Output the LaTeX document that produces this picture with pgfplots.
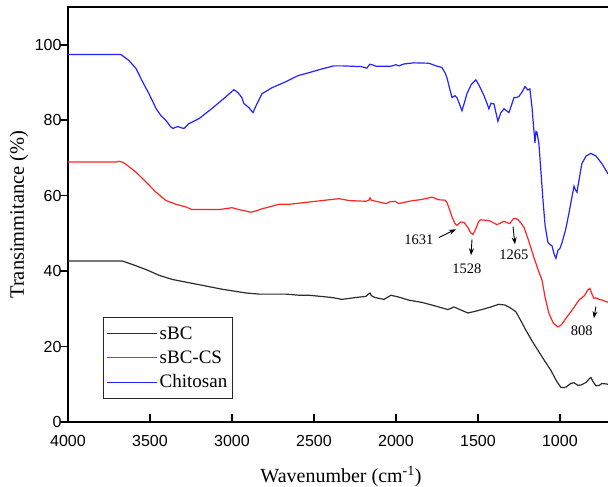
\documentclass[border=0pt]{standalone}
\usepackage{pgfplots}
\pgfplotsset{compat=1.18}
\usepackage{pgfplotstable}
\usepackage{fontspec}
\setmainfont{Liberation Serif}
\newfontfamily\arialfont{Liberation Sans}
\usetikzlibrary{arrows.meta}
\definecolor{specblue}{RGB}{35,35,255}
\definecolor{specred}{RGB}{255,35,35}
\definecolor{specblack}{RGB}{45,45,45}

% Chitosan
\pgfplotstableread{
x y
4000 97.4
3800 97.4
3677 97.4
3628 95.8
3585 93.7
3549 90.5
3506 87.0
3463 83.1
3433 81.2
3402 79.9
3375 78.3
3360 77.8
3345 78.1
3329 78.3
3310 78.0
3293 77.8
3262 79.1
3201 80.4
3122 83.1
3037 86.2
2988 88.1
2963 87.3
2940 86.0
2927 84.4
2896 83.3
2872 82.0
2847 84.4
2817 87.0
2756 88.6
2671 90.2
2597 91.8
2530 92.6
2450 93.6
2378 94.4
2329 94.4
2213 94.2
2177 93.8
2160 94.8
2146 94.7
2122 94.3
2030 94.3
2000 94.7
1982 94.4
1951 94.9
1890 95.2
1799 95.1
1756 94.4
1720 94.0
1700 92.5
1689 91.3
1670 88
1658 86
1640 86.5
1628 86
1610 84
1597 82.5
1580 85
1567 87
1540 89.5
1512 90.7
1490 89
1463 86.5
1445 84.5
1433 83
1420 84.5
1402 84.3
1390 82
1378 79.7
1360 82
1341 83
1325 82.5
1311 82
1295 84
1280 86
1265 86
1250 86.3
1230 87.5
1213 88.9
1195 88
1183 88.3
1170 83.4
1160 78
1152 74
1146 77
1140 76.8
1128 73.8
1115 66
1103 58.7
1090 52
1073 47.6
1060 47
1049 46.8
1035 44.5
1024 43.4
1012 45.5
1000 46
988 47.4
965 51
945 55.3
925 60
914 62.5
905 61.5
896 60.9
880 65
866 68.5
840 70.5
811 71.2
780 70.5
744 68.5
707 65.8
}\chitosan

% sBC-CS
\pgfplotstableread{
x y
4000 68.9
3707 68.9
3689 69.1
3670 68.9
3646 68.3
3585 66.2
3524 63.6
3463 60.9
3402 58.7
3341 57.7
3280 57.0
3244 56.3
3079 56.3
3030 56.6
3000 56.8
2957 56.3
2884 55.6
2850 56.0
2817 56.5
2713 57.7
2652 57.7
2591 58.0
2530 58.3
2347 59.2
2286 58.7
2183 58.5
2165 58.8
2158 59.4
2150 58.8
2122 58.5
2061 57.9
2035 58.4
2006 58.5
1982 57.9
1921 58.5
1841 59.0
1780 59.6
1738 58.9
1700 58.8
1689 58.2
1670 56
1658 54.3
1640 52.6
1628 52.1
1605 53
1585 52.9
1560 51.5
1545 50.2
1530 49.7
1510 51.5
1495 53.2
1482 53.6
1433 53.4
1405 52.8
1384 52.3
1360 52.8
1341 53.2
1320 52.8
1305 52.6
1285 53.8
1274 54
1255 53.6
1235 52.6
1219 51.6
1190 48
1159 43.7
1130 40
1109 37.6
1090 33
1067 28.8
1040 26.2
1012 25.2
990 25.8
963 27.5
920 30
884 32.3
850 33.5
830 35
817 35.4
805 34
793 32.8
780 32.9
762 32.5
740 32.3
713 31.8
707 31.8
}\sbccs

% sBC
\pgfplotstableread{
x y
4000 42.7
3671 42.7
3610 41.8
3524 40.4
3445 38.9
3366 37.8
3201 36.4
3061 35.2
2915 34.2
2835 33.9
2671 33.9
2591 33.6
2530 33.6
2390 33.0
2329 32.5
2244 33.0
2183 33.3
2165 34.0
2158 34.2
2150 33.5
2128 33.0
2073 32.5
2030 33.6
1982 33.1
1921 32.3
1841 31.7
1756 30.7
1683 29.8
1660 30.2
1646 30.5
1610 29.8
1561 28.9
1520 29.3
1476 29.8
1420 30.5
1372 31.2
1335 31
1300 30.2
1268 29.2
1240 27
1207 24.3
1170 21.5
1128 18.6
1090 16
1055 13.7
1020 10.8
994 9.2
975 9.1
957 9.4
935 10.2
914 10.4
890 9.7
872 9.8
840 10.5
820 11.5
811 11.8
795 10.5
780 9.6
760 9.7
744 10.2
720 10.1
707 10
}\sbc

\begin{document}
\begin{tikzpicture}
\useasboundingbox (-68pt,-65pt) rectangle (540pt,422pt);
\begin{axis}[
    at={(0pt,0pt)}, anchor=south west,
    scale only axis,
    width=546pt, height=415pt,
    x dir=reverse,
    xmin=670, xmax=4000,
    ymin=0, ymax=110,
    axis line style={line width=1.6pt, black},
    xtick={1000,1500,2000,2500,3000,3500,4000},
    ytick={0,20,40,60,80,100},
    tick pos=left,
    tick align=inside,
    major tick length=8pt,
    every tick/.style={black, line width=1.6pt},
    ytick style={xshift=-8pt},
    minor tick num=0,
    /pgf/number format/assume math mode=true,
    /pgf/number format/1000 sep={},
    tick label style={font=\arialfont\fontsize{16}{18}\selectfont},
    yticklabel style={xshift=-3pt},
    xticklabel style={yshift=-10pt},
    xlabel={Wavenumber (cm\textsuperscript{-1})},
    ylabel={Transimmitance (\%)},
    x label style={at={([yshift=-61pt]axis description cs:0.5,0)}, anchor=base,
        font=\fontsize{20}{22}\selectfont},
    y label style={at={([xshift=-44pt]axis description cs:0,0.5)}, anchor=base,
        font=\fontsize{20.5}{22}\selectfont},
    legend style={at={(rel axis cs:0.064,0.253)}, anchor=north west,
        draw=black!85, line width=1.2pt,
        font=\fontsize{19}{22}\selectfont,
        row sep=6pt, inner xsep=3pt, inner ysep=7pt},
    legend cell align=left,
    legend image code/.code={\draw[#1, line width=1.2pt] (0pt,0pt) -- (50pt,0pt);},
]
\addplot[specblack, line width=1.2pt] table {\sbc};
\addlegendentry{sBC}
\addplot[specred, line width=1.2pt] table {\sbccs};
\addlegendentry{sBC-CS}
\addplot[specblue, line width=1.2pt] table {\chitosan};
\addlegendentry{Chitosan}

\node[font=\fontsize{14.5}{16}\selectfont] at (axis cs:1860,48.4) {1631};
\draw[-{Stealth[length=7pt,width=5pt]}, line width=0.9pt] (axis cs:1738,48.9) -- (axis cs:1634,51.1);
\node[font=\fontsize{14.5}{16}\selectfont] at (axis cs:1567,40.7) {1528};
\draw[-{Stealth[length=7pt,width=5pt]}, line width=0.9pt] (axis cs:1536,48.4) -- (axis cs:1542,44.2);
\node[font=\fontsize{14.5}{16}\selectfont] at (axis cs:1280,44.2) {1265};
\draw[-{Stealth[length=7pt,width=5pt]}, line width=0.9pt] (axis cs:1286,51.8) -- (axis cs:1274,47.1);
\node[font=\fontsize{14.5}{16}\selectfont] at (axis cs:866,24.1) {808};
\draw[-{Stealth[length=7pt,width=5pt]}, line width=0.9pt] (axis cs:780,30.6) -- (axis cs:793,27.5);
\end{axis}
\end{tikzpicture}
\end{document}
